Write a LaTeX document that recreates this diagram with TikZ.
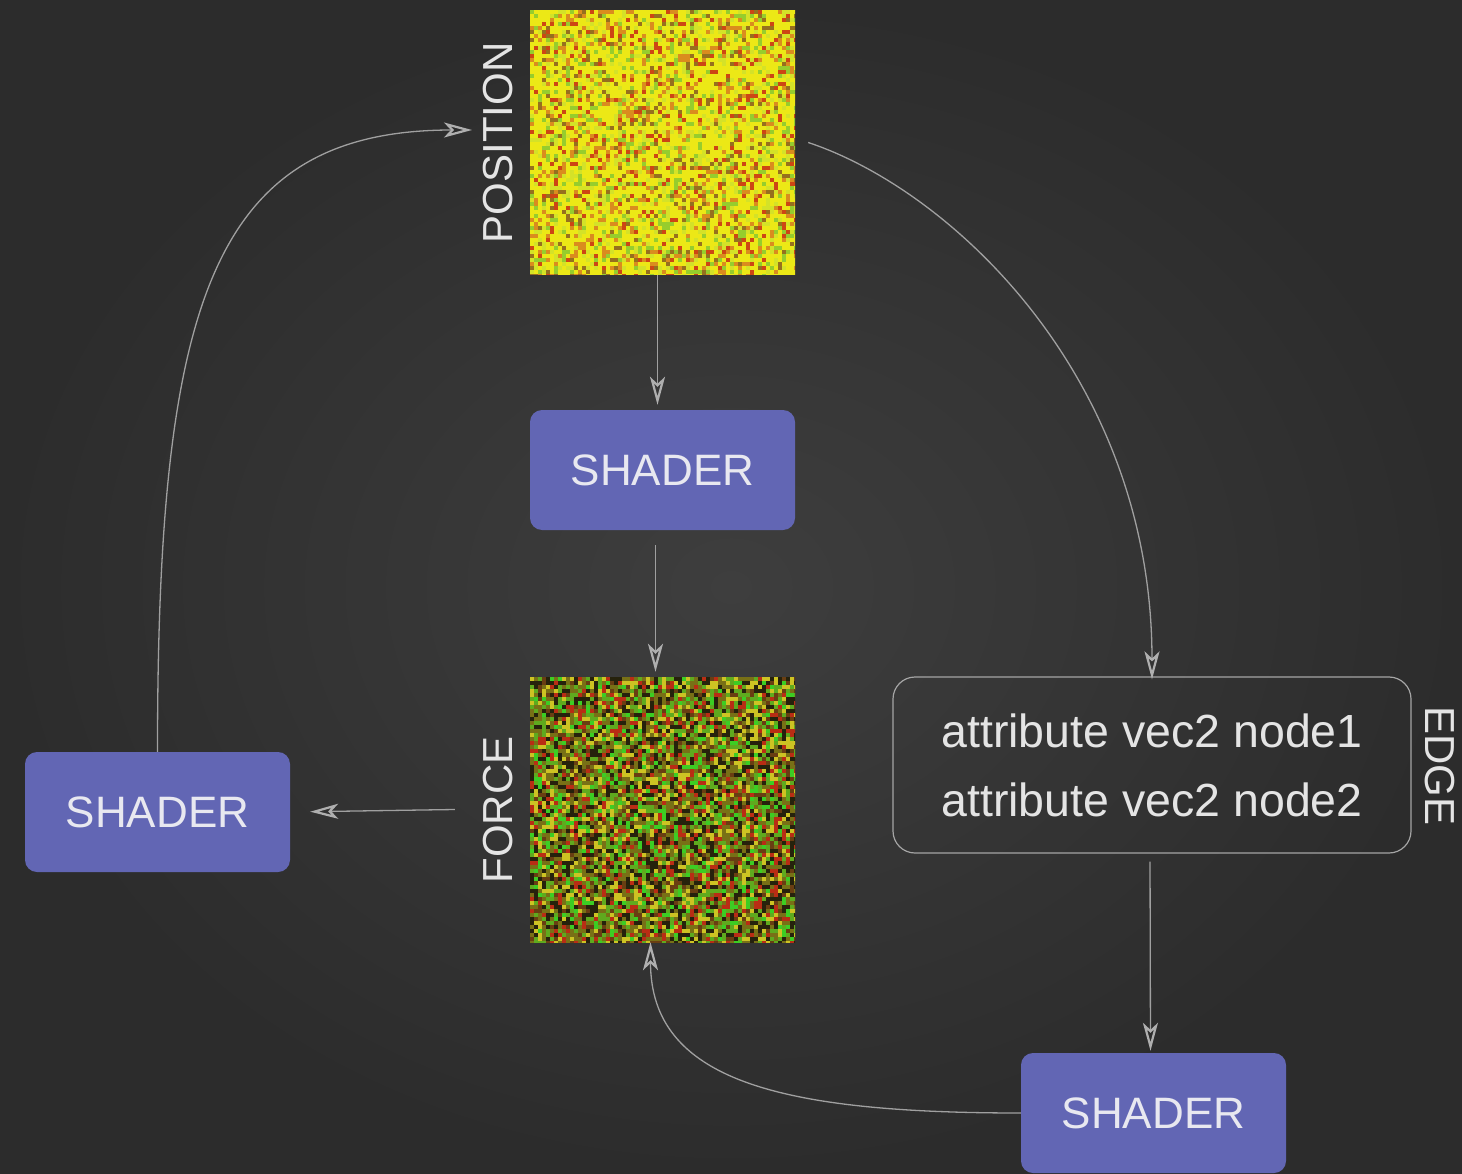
\documentclass[tikz,border=0pt]{standalone}
\usepackage{fontspec}
\setmainfont{Liberation Sans}
\usetikzlibrary{arrows.meta}
\definecolor{bgin}{RGB}{62,62,62}
\definecolor{bgout}{RGB}{44,44,44}
\definecolor{shaderblue}{RGB}{98,102,180}
\definecolor{shadertext}{RGB}{232,232,240}
\definecolor{labeltext}{RGB}{228,228,228}
\definecolor{linegray}{RGB}{160,160,160}
\definecolor{tipgray}{RGB}{175,175,175}
\definecolor{boxgray}{RGB}{165,165,165}
% position palette
\definecolor{pa}{RGB}{236,232,22}
\definecolor{pb}{RGB}{212,226,40}
\definecolor{pc}{RGB}{218,140,30}
\definecolor{pd}{RGB}{150,112,30}
\definecolor{pe}{RGB}{150,205,45}
\definecolor{pf}{RGB}{205,70,20}
% force palette
\definecolor{fa}{RGB}{38,34,12}
\definecolor{fb}{RGB}{120,112,22}
\definecolor{fc}{RGB}{205,195,35}
\definecolor{fd}{RGB}{95,170,30}
\definecolor{fe}{RGB}{60,205,35}
\definecolor{ff}{RGB}{185,45,20}
\definecolor{fg}{RGB}{105,62,18}
\begin{document}
\begin{tikzpicture}[x=1pt,y=-1pt,
  shaderbox/.style={rectangle,rounded corners=12pt,fill=shaderblue,minimum width=265pt,minimum height=120pt,text=shadertext,font=\fontsize{44}{50}\selectfont,inner sep=0pt},
  texbox/.style={rectangle,minimum width=265pt,minimum height=265pt,inner sep=0pt},
  vlabel/.style={text=labeltext,font=\fontsize{42}{48}\selectfont,inner sep=0pt},
  conn/.style={draw=linegray,line width=1.3pt,-{Stealth[open,length=28pt,width=15pt,inset=7pt,line width=2.2pt,color=tipgray]}}
]
\useasboundingbox (0,0) rectangle (1462,1174);
\shade[inner color=bgin,outer color=bgout] (0,0) rectangle (1462,1174);
\pgfmathsetseed{42}
% position texture
\begin{scope}
\clip (530,10) rectangle (795,275);
\foreach \i in {0,...,66}{\foreach \j in {0,...,66}{%
  \pgfmathrandominteger{\r}{1}{100}%
  \ifnum\r<52 \def\c{pa}\else\ifnum\r<64 \def\c{pb}\else\ifnum\r<75 \def\c{pc}\else\ifnum\r<82 \def\c{pd}\else\ifnum\r<93 \def\c{pe}\else\def\c{pf}\fi\fi\fi\fi\fi
  \fill[\c] ({530+4*\i},{10+4*\j}) rectangle +(4.5,4.5);
}}
\end{scope}
% force texture
\begin{scope}
\clip (530,677) rectangle (795,942);
\foreach \i in {0,...,66}{\foreach \j in {0,...,66}{%
  \pgfmathrandominteger{\r}{1}{100}%
  \ifnum\r<22 \def\c{fa}\else\ifnum\r<40 \def\c{fb}\else\ifnum\r<56 \def\c{fc}\else\ifnum\r<72 \def\c{fd}\else\ifnum\r<80 \def\c{fe}\else\ifnum\r<91 \def\c{ff}\else\def\c{fg}\fi\fi\fi\fi\fi\fi
  \fill[\c] ({530+4*\i},{677+4*\j}) rectangle +(4.5,4.5);
}}
\end{scope}
% nodes
\node[texbox] (pos) at (662.5,142.5) {};
\node[texbox] (force) at (662.5,809.5) {};
\node[vlabel,rotate=90] (plab) at (498,143) {POSITION};
\node[vlabel,rotate=90] (flab) at (498,810) {FORCE};
\node[shaderbox] (sh1) at (662.5,470) {SHADER};
\node[shaderbox] (shl) at (157.5,812) {SHADER};
\node[shaderbox] (shb) at (1153.5,1113) {SHADER};
\node[rectangle,rounded corners=22pt,draw=boxgray,line width=1.2pt,minimum width=518pt,minimum height=176pt,text=labeltext,align=left,font=\fontsize{46.5}{69}\selectfont] (edge) at (1152,765) {attribute vec2 node1\\attribute vec2 node2};
\node[vlabel,rotate=-90] (elab) at (1440,766) {EDGE};
\coordinate (posin) at (472,130);
% connectors
\draw[conn,shorten >=5pt] ([xshift=-5pt]pos.south) -- ([xshift=-5pt]sh1.north);
\draw[conn,shorten <=15pt,shorten >=5pt] ([xshift=-7pt]sh1.south) -- ([xshift=-7pt]force.north);
\draw[conn,shorten >=20pt] ([xshift=-75pt]force.west) -- (shl.east);
\draw[conn] (shl.north) .. controls +(0,-450) and +(-260,0) .. (posin);
\draw[conn,shorten >=-3pt] ([xshift=13pt]pos.east) .. controls +(142,47) and +(0,-300) .. (edge.north);
\draw[conn,shorten <=8pt,shorten >=2pt] ([xshift=-2pt]edge.south) -- ([xshift=-3pt]shb.north);
\draw[conn] (shb.west) .. controls +(-242,0) and +(0,138) .. ([xshift=-12pt]force.south);
\end{tikzpicture}
\end{document}
